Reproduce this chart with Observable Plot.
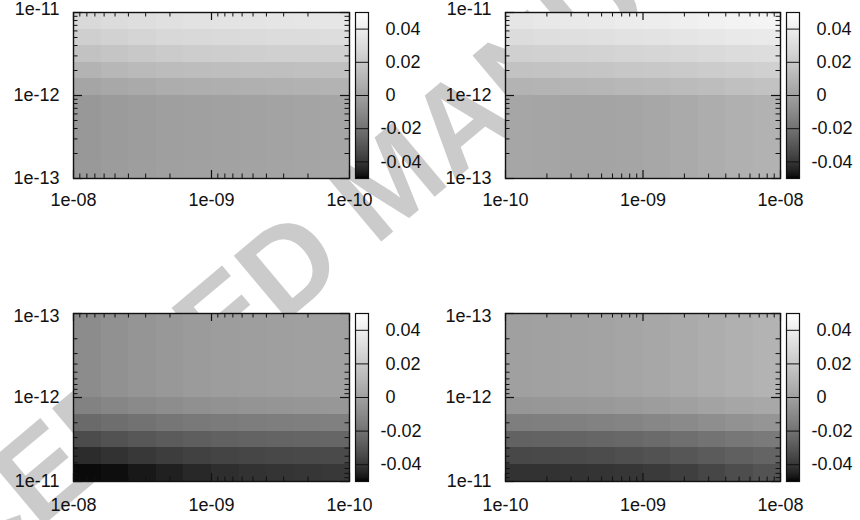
<!DOCTYPE html>
<html><head><meta charset="utf-8">
<script src="https://cdn.jsdelivr.net/npm/d3@7"></script>
<script src="https://cdn.jsdelivr.net/npm/@observablehq/plot@0.6"></script>
<style>
body{margin:0;background:#fff;}
#root{position:relative;width:860px;height:520px;overflow:hidden;font-family:"Liberation Sans",Arial,sans-serif;}
#root > svg{position:absolute;}
</style></head><body><div id="root"></div>
<script>
// ---- data ----
const xEdges = [1e-10, 1.585e-10, 2.512e-10, 3.981e-10, 6.310e-10, 1e-9, 1.585e-9, 2.512e-9, 3.981e-9, 6.310e-9, 1e-8];
const yEdges = [1e-13, 1.585e-13, 2.512e-13, 3.981e-13, 6.310e-13, 1e-12, 1.585e-12, 2.512e-12, 3.981e-12, 6.310e-12, 1e-11];
const xMajor = [1e-10, 1e-9, 1e-8];
const xTickLabels = ["1e-10", "1e-09", "1e-08"];
const xMinor = [2e-10,3e-10,4e-10,5e-10,6e-10,7e-10,8e-10,9e-10,2e-9,3e-9,4e-9,5e-9,6e-9,7e-9,8e-9,9e-9];
const yMajor = [1e-13, 1e-12, 1e-11];
const yTickLabels = ["1e-13", "1e-12", "1e-11"];
const yMinor = [2e-13,3e-13,4e-13,5e-13,6e-13,7e-13,8e-13,9e-13,2e-12,3e-12,4e-12,5e-12,6e-12,7e-12,8e-12,9e-12];
const cbTicks = [-0.04, -0.02, 0, 0.02, 0.04];
const cbTickLabels = ["-0.04", "-0.02", "0", "0.02", "0.04"];

// rows: y bins from 1e-13 up to 1e-11; columns: x bins from 1e-10 up to 1e-8
const panelA = [
  [0.0023,0.0019,0.0014,0.0009,0.0005,0.0000,-0.0005,-0.0014,-0.0023,-0.0037],
  [0.0020,0.0016,0.0011,0.0006,0.0002,-0.0003,-0.0008,-0.0017,-0.0026,-0.0040],
  [0.0020,0.0016,0.0011,0.0006,0.0002,-0.0003,-0.0008,-0.0017,-0.0026,-0.0040],
  [0.0020,0.0016,0.0011,0.0006,0.0002,-0.0003,-0.0008,-0.0017,-0.0026,-0.0040],
  [0.0020,0.0016,0.0011,0.0006,0.0002,-0.0003,-0.0008,-0.0017,-0.0026,-0.0040],
  [0.0088,0.0083,0.0078,0.0073,0.0069,0.0064,0.0059,0.0044,0.0035,0.0020],
  [0.0153,0.0153,0.0148,0.0148,0.0143,0.0138,0.0133,0.0123,0.0108,0.0088],
  [0.0237,0.0237,0.0237,0.0231,0.0226,0.0221,0.0210,0.0195,0.0179,0.0164],
  [0.0307,0.0301,0.0301,0.0296,0.0290,0.0285,0.0280,0.0263,0.0247,0.0231],
  [0.0357,0.0357,0.0351,0.0345,0.0340,0.0334,0.0323,0.0312,0.0301,0.0285]
];
const panelB = [
  [0.0025,0.0020,0.0016,0.0016,0.0020,0.0030,0.0044,0.0059,0.0073,0.0083],
  [0.0025,0.0020,0.0016,0.0016,0.0020,0.0030,0.0044,0.0059,0.0073,0.0083],
  [0.0025,0.0020,0.0016,0.0016,0.0020,0.0030,0.0044,0.0059,0.0073,0.0083],
  [0.0025,0.0020,0.0016,0.0016,0.0020,0.0030,0.0044,0.0059,0.0073,0.0083],
  [0.0025,0.0020,0.0016,0.0016,0.0020,0.0030,0.0044,0.0059,0.0073,0.0083],
  [0.0088,0.0093,0.0098,0.0103,0.0113,0.0118,0.0128,0.0138,0.0153,0.0164],
  [0.0164,0.0169,0.0174,0.0179,0.0189,0.0195,0.0205,0.0216,0.0226,0.0237],
  [0.0237,0.0242,0.0247,0.0253,0.0263,0.0269,0.0280,0.0290,0.0301,0.0307],
  [0.0301,0.0312,0.0318,0.0323,0.0334,0.0340,0.0351,0.0362,0.0373,0.0379],
  [0.0357,0.0368,0.0373,0.0379,0.0390,0.0396,0.0407,0.0419,0.0430,0.0436]
];
const panelC = [
  [-0.0003,-0.0003,-0.0008,-0.0012,-0.0017,-0.0026,-0.0040,-0.0053,-0.0071,-0.0093],
  [-0.0003,-0.0003,-0.0008,-0.0012,-0.0017,-0.0026,-0.0040,-0.0053,-0.0071,-0.0093],
  [-0.0003,-0.0003,-0.0008,-0.0012,-0.0017,-0.0026,-0.0040,-0.0053,-0.0071,-0.0093],
  [-0.0003,-0.0003,-0.0008,-0.0012,-0.0017,-0.0026,-0.0040,-0.0053,-0.0071,-0.0093],
  [-0.0003,-0.0003,-0.0008,-0.0012,-0.0017,-0.0026,-0.0040,-0.0053,-0.0071,-0.0093],
  [-0.0044,-0.0049,-0.0053,-0.0058,-0.0067,-0.0076,-0.0089,-0.0102,-0.0119,-0.0136],
  [-0.0144,-0.0149,-0.0153,-0.0157,-0.0165,-0.0173,-0.0185,-0.0201,-0.0217,-0.0232],
  [-0.0247,-0.0251,-0.0254,-0.0258,-0.0265,-0.0276,-0.0287,-0.0301,-0.0318,-0.0337],
  [-0.0344,-0.0347,-0.0350,-0.0356,-0.0362,-0.0371,-0.0383,-0.0397,-0.0413,-0.0428],
  [-0.0397,-0.0403,-0.0408,-0.0413,-0.0423,-0.0438,-0.0456,-0.0471,-0.0487,-0.0492]
];
const panelD = [
  [-0.0003,0.0002,0.0006,0.0011,0.0020,0.0030,0.0044,0.0059,0.0073,0.0088],
  [-0.0003,0.0002,0.0006,0.0011,0.0020,0.0030,0.0044,0.0059,0.0073,0.0088],
  [-0.0003,0.0002,0.0006,0.0011,0.0020,0.0030,0.0044,0.0059,0.0073,0.0088],
  [-0.0003,0.0002,0.0006,0.0011,0.0020,0.0030,0.0044,0.0059,0.0073,0.0088],
  [-0.0003,0.0002,0.0006,0.0011,0.0020,0.0030,0.0044,0.0059,0.0073,0.0088],
  [-0.0049,-0.0044,-0.0040,-0.0035,-0.0026,-0.0017,-0.0003,0.0011,0.0025,0.0035],
  [-0.0153,-0.0149,-0.0144,-0.0136,-0.0128,-0.0115,-0.0102,-0.0084,-0.0067,-0.0053],
  [-0.0262,-0.0258,-0.0254,-0.0247,-0.0240,-0.0228,-0.0213,-0.0197,-0.0181,-0.0169],
  [-0.0350,-0.0347,-0.0344,-0.0337,-0.0328,-0.0318,-0.0304,-0.0287,-0.0269,-0.0254],
  [-0.0413,-0.0413,-0.0411,-0.0408,-0.0403,-0.0392,-0.0377,-0.0356,-0.0334,-0.0314]
];
const watermarkText = "ACCEPTED MANUSCRIPT";

// ---- rendering ----
const root = document.getElementById("root");
const FONT = "'Liberation Sans', Arial, Helvetica, sans-serif";

// watermark (behind everything)
const wm = d3.select(root).append("svg").attr("width", 860).attr("height", 520).style("left", "0px").style("top", "0px");
wm.append("text").text(watermarkText)
  .attr("transform", "translate(-165,700) rotate(-40)")
  .attr("font-family", FONT).attr("font-weight", "bold").attr("font-size", 122)
  .attr("fill", "#cbcbcb");

const grayGamma = t => {
  const g = Math.round(255 * Math.pow(Math.max(0, Math.min(1, t)), 1 / 1.5));
  return `rgb(${g},${g},${g})`;
};
const colorScale = {type: "linear", domain: [-0.05, 0.05], interpolate: grayGamma, clamp: true};

function cellsOf(m) {
  const out = [];
  m.forEach((row, k) => row.forEach((v, j) => out.push({x1: xEdges[j], x2: xEdges[j + 1], y1: yEdges[k], y2: yEdges[k + 1], v})));
  return out;
}

function panel(m, {left, top, mL, mR, mT, mB, xRev, yRev, xPad, topDy}) {
  const W = 430, H = 220;
  const fh = H - mT - mB, fw = W - mL - mR;
  const topTick = yRev ? yMajor[0] : yMajor[yMajor.length - 1];
  const yFmt = d => yTickLabels[yMajor.indexOf(d)];
  const plot = Plot.plot({
    width: W, height: H, marginLeft: mL, marginRight: mR, marginTop: mT, marginBottom: mB,
    style: {fontFamily: FONT, fontSize: "18px", background: "transparent", color: "#111", overflow: "visible"},
    x: {type: "log", domain: [1e-10, 1e-8], reverse: xRev},
    y: {type: "log", domain: [1e-13, 1e-11], reverse: yRev},
    color: colorScale,
    marks: [
      Plot.rect(cellsOf(m), {x1: "x1", x2: "x2", y1: "y1", y2: "y2", fill: "v", shapeRendering: "crispEdges"}),
      Plot.tickX(xMajor, {x: d => d, insetBottom: fh - 8, stroke: "#111", strokeWidth: 1.2}),
      Plot.tickX(xMajor, {x: d => d, insetTop: fh - 8, stroke: "#111", strokeWidth: 1.2}),
      Plot.tickX(xMinor, {x: d => d, insetBottom: fh - 4.5, stroke: "#111", strokeWidth: 1}),
      Plot.tickX(xMinor, {x: d => d, insetTop: fh - 4.5, stroke: "#111", strokeWidth: 1}),
      Plot.tickY(yMajor, {y: d => d, insetRight: fw - 9, stroke: "#111", strokeWidth: 1.2}),
      Plot.tickY(yMajor, {y: d => d, insetLeft: fw - 9, stroke: "#111", strokeWidth: 1.2}),
      Plot.tickY(yMinor, {y: d => d, insetRight: fw - 4.5, stroke: "#111", strokeWidth: 1}),
      Plot.tickY(yMinor, {y: d => d, insetLeft: fw - 4.5, stroke: "#111", strokeWidth: 1}),
      Plot.frame({stroke: "#111", strokeWidth: 1.4}),
      Plot.axisX(xMajor, {anchor: "bottom", tickSize: 0, tickPadding: xPad, label: null,
        tickFormat: d => xTickLabels[xMajor.indexOf(d)]}),
      Plot.axisY(yMajor.filter(d => d !== topTick), {anchor: "left", tickSize: 0, tickPadding: 14, label: null, tickFormat: yFmt}),
      Plot.axisY([topTick], {anchor: "left", tickSize: 0, tickPadding: 14, label: null, tickFormat: yFmt, dy: topDy})
    ]
  });
  plot.style.left = left + "px";
  plot.style.top = top + "px";
  root.appendChild(plot);
}

function colorbar({left, top, mL, mT, mB}) {
  const W = 90, H = 220, bw = 13;
  const step = 0.0005;
  const steps = d3.range(-0.05, 0.05 - step / 2, step);
  const plot = Plot.plot({
    width: W, height: H, marginLeft: mL, marginRight: W - mL - bw, marginTop: mT, marginBottom: mB,
    style: {fontFamily: FONT, fontSize: "18px", background: "transparent", color: "#111", overflow: "visible"},
    y: {domain: [-0.05, 0.05]},
    color: colorScale,
    marks: [
      Plot.barY(steps, {y1: d => d, y2: d => d + step, fill: d => d + step / 2, shapeRendering: "crispEdges"}),
      Plot.ruleY(cbTicks, {stroke: "#111", strokeWidth: 1}),
      Plot.frame({stroke: "#111", strokeWidth: 1.2}),
      Plot.axisY(cbTicks, {anchor: "right", tickSize: 0, tickPadding: 12, label: null, textAnchor: "start",
        tickFormat: d => { const s = cbTickLabels[cbTicks.indexOf(d)]; return s.startsWith("-") ? s : "\u00a0" + s; }})
    ]
  });
  plot.style.left = left + "px";
  plot.style.top = top + "px";
  root.appendChild(plot);
}

panel(panelA, {left: 0, top: 0, mL: 73, mR: 81, mT: 12, mB: 42, xRev: true, yRev: false, xPad: 15, topDy: -3});
panel(panelB, {left: 430, top: 0, mL: 75, mR: 80, mT: 12, mB: 42, xRev: false, yRev: false, xPad: 15, topDy: -3});
panel(panelC, {left: 0, top: 300, mL: 73, mR: 81, mT: 13, mB: 39, xRev: true, yRev: true, xPad: 17, topDy: 3});
panel(panelD, {left: 430, top: 300, mL: 75, mR: 80, mT: 13, mB: 39, xRev: false, yRev: true, xPad: 17, topDy: 3});
colorbar({left: 340, top: 0, mL: 15, mT: 12, mB: 42});
colorbar({left: 770, top: 0, mL: 16, mT: 12, mB: 42});
colorbar({left: 340, top: 300, mL: 15, mT: 13, mB: 39});
colorbar({left: 770, top: 300, mL: 16, mT: 13, mB: 39});
</script>
</body></html>
